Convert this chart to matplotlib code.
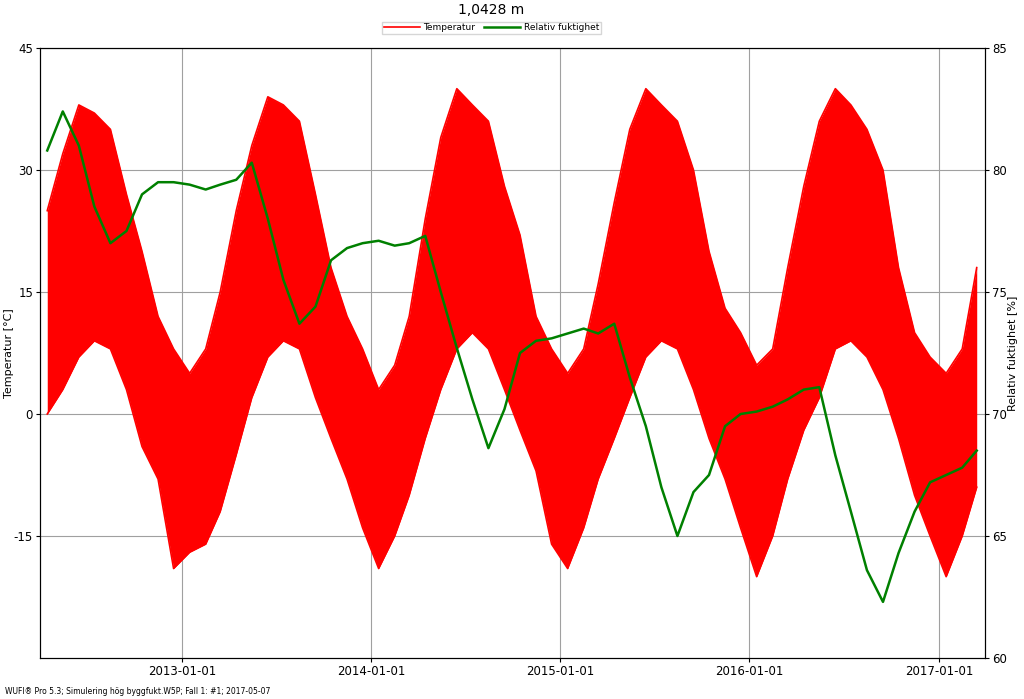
import numpy as np
import pandas as pd
import matplotlib.pyplot as plt
import matplotlib.dates as mdates

plt.rcParams["axes.unicode_minus"] = False

# monthly values, Apr 2012 .. Mar 2017 (mid-month)
months = pd.date_range("2012-04-01", periods=60, freq="MS") + pd.Timedelta(days=14)

temp_max = [25, 32, 38, 37, 35, 27, 20, 12, 8,
            5, 8, 15, 25, 33, 39, 38, 36, 27, 18, 12, 8,
            3, 6, 12, 24, 34, 40, 38, 36, 28, 22, 12, 8,
            5, 8, 16, 26, 35, 40, 38, 36, 30, 20, 13, 10,
            6, 8, 18, 28, 36, 40, 38, 35, 30, 18, 10, 7,
            5, 8, 18]
temp_min = [0, 3, 7, 9, 8, 3, -4, -8, -19,
            -17, -16, -12, -5, 2, 7, 9, 8, 2, -3, -8, -14,
            -19, -15, -10, -3, 3, 8, 10, 8, 3, -2, -7, -16,
            -19, -14, -8, -3, 2, 7, 9, 8, 3, -3, -8, -14,
            -20, -15, -8, -2, 2, 8, 9, 7, 3, -3, -10, -15,
            -20, -15, -9]
rel_hum = [80.8, 82.4, 81.0, 78.5, 77.0, 77.5, 79.0, 79.5, 79.5,
           79.4, 79.2, 79.4, 79.6, 80.3, 78.0, 75.5, 73.7, 74.4, 76.3, 76.8, 77.0,
           77.1, 76.9, 77.0, 77.3, 75.0, 72.7, 70.6, 68.6, 70.2, 72.5, 73.0, 73.1,
           73.3, 73.5, 73.3, 73.7, 71.5, 69.5, 67.0, 65.0, 66.8, 67.5, 69.5, 70.0,
           70.1, 70.3, 70.6, 71.0, 71.1, 68.3, 66.0, 63.6, 62.3, 64.3, 66.0, 67.2,
           67.5, 67.8, 68.5]

fig = plt.figure(figsize=(10.24, 6.99), dpi=100)
ax = fig.add_axes([40/1024, 1-658/699, 945/1024, 610/699])
ax.fill_between(months, temp_min, temp_max, color="red", lw=0)
l1, = ax.plot(months, temp_max, color="red", lw=1.2, label="Temperatur")
ax.plot(months, temp_min, color="red", lw=1.2)
ax.set_xlim(pd.Timestamp("2012-04-01"), pd.Timestamp("2017-03-31"))
ax.set_ylim(-30, 45)
ax.set_yticks([45, 30, 15, 0, -15])
ax.set_ylabel("Temperatur [°C]", fontsize=8)
ax.yaxis.set_label_coords(-26/945, 0.5)
ax.xaxis.set_major_locator(mdates.YearLocator())
ax.xaxis.set_major_formatter(mdates.DateFormatter("%Y-%m-%d"))
ax.grid(True, color="#a0a0a0", lw=0.8)
ax.set_axisbelow(True)
ax.tick_params(labelsize=8.5, length=3, pad=2)

ax2 = ax.twinx()
l2, = ax2.plot(months, rel_hum, color="green", lw=1.8, label="Relativ fuktighet")
ax2.set_ylim(60, 85)
ax2.set_yticks([85, 80, 75, 70, 65, 60])
ax2.set_ylabel("Relativ fuktighet [%]", fontsize=8, labelpad=1)
ax2.tick_params(labelsize=8.5, length=3, pad=2)

fig.text(0.48, 1-10/699, "1,0428 m", ha="center", va="center", fontsize=10)
fig.legend(handles=[l1, l2], loc="center", bbox_to_anchor=(0.48, 1-28/699),
           ncol=2, fontsize=6.5, frameon=True, fancybox=False, edgecolor="#cccccc",
           handlelength=4, borderpad=0.2, handletextpad=0.4, columnspacing=1.0)
fig.text(0.005, 0.005, "WUFI® Pro 5.3; Simulering hög byggfukt.W5P; Fall 1: #1; 2017-05-07",
         fontsize=5.5, ha="left", va="bottom")
fig.savefig("out.png", dpi=100)
